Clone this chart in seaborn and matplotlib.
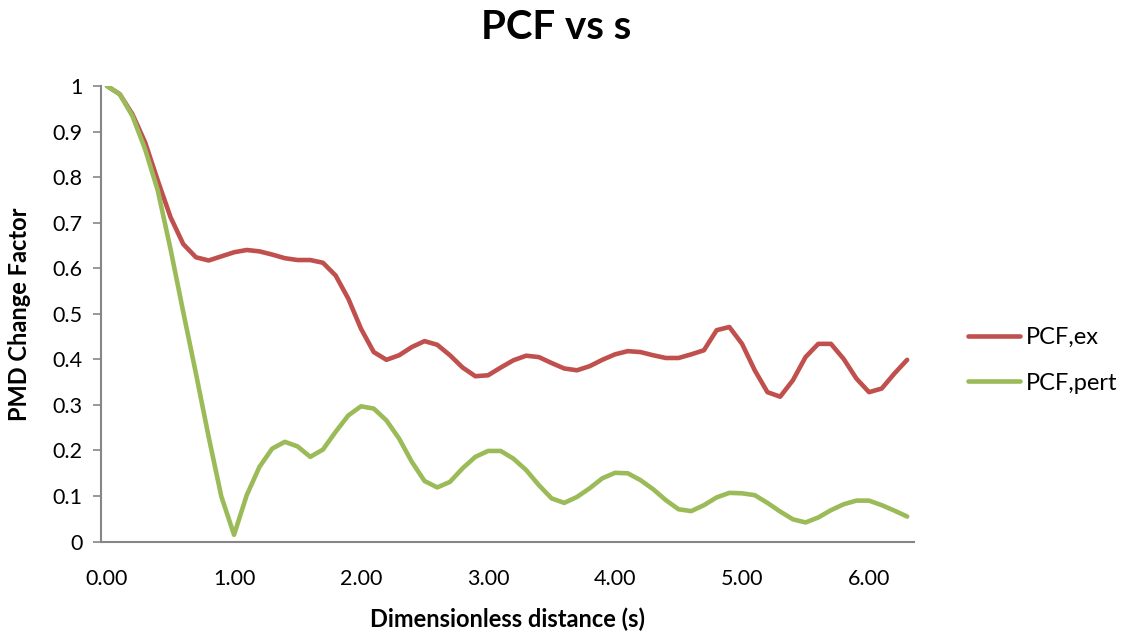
import numpy as np
import pandas as pd
import seaborn as sns
import matplotlib.pyplot as plt

# dimensionless distance s, 0.0 .. 6.3 in steps of 0.1
s_values = [round(0.1 * i, 1) for i in range(64)]

pcf_ex = [
    1.000, 0.982, 0.938, 0.876, 0.792, 0.712, 0.653, 0.624, 0.617, 0.626,
    0.635, 0.640, 0.637, 0.630, 0.622, 0.618, 0.618, 0.612, 0.584, 0.533,
    0.467, 0.416, 0.399, 0.409, 0.427, 0.440, 0.432, 0.409, 0.382, 0.363,
    0.365, 0.382, 0.398, 0.408, 0.405, 0.392, 0.380, 0.376, 0.385, 0.399,
    0.411, 0.418, 0.416, 0.409, 0.403, 0.403, 0.411, 0.420, 0.464, 0.471,
    0.434, 0.376, 0.328, 0.318, 0.354, 0.405, 0.434, 0.434, 0.401, 0.358,
    0.328, 0.336, 0.369, 0.399,
]

pcf_pert = [
    1.000, 0.982, 0.934, 0.861, 0.770, 0.642, 0.504, 0.369, 0.230, 0.099,
    0.015, 0.102, 0.164, 0.204, 0.219, 0.209, 0.186, 0.202, 0.241, 0.277,
    0.297, 0.292, 0.266, 0.226, 0.175, 0.133, 0.119, 0.131, 0.161, 0.186,
    0.199, 0.199, 0.182, 0.157, 0.124, 0.095, 0.085, 0.098, 0.117, 0.139,
    0.151, 0.150, 0.135, 0.115, 0.091, 0.071, 0.067, 0.080, 0.097, 0.107,
    0.106, 0.102, 0.085, 0.066, 0.049, 0.042, 0.053, 0.069, 0.082, 0.090,
    0.090, 0.080, 0.068, 0.055,
]

series_names = ["PCF,ex", "PCF,pert"]
series_colors = ["#C0504D", "#9BBB59"]

x_ticks = [0, 1, 2, 3, 4, 5, 6]
x_tick_labels = ["0.00", "1.00", "2.00", "3.00", "4.00", "5.00", "6.00"]
y_ticks = [0, 0.1, 0.2, 0.3, 0.4, 0.5, 0.6, 0.7, 0.8, 0.9, 1.0]
y_tick_labels = ["0", "0.1", "0.2", "0.3", "0.4", "0.5", "0.6", "0.7", "0.8", "0.9", "1"]

df = pd.DataFrame({
    "s": s_values * 2,
    "value": pcf_ex + pcf_pert,
    "series": [series_names[0]] * len(s_values) + [series_names[1]] * len(s_values),
})

sns.set_style("white")
plt.rcParams["font.family"] = ["Lato", "DejaVu Sans"]
plt.rcParams["text.color"] = "black"
plt.rcParams["axes.labelcolor"] = "black"
plt.rcParams["xtick.color"] = "black"
plt.rcParams["ytick.color"] = "black"

fig = plt.figure(figsize=(11.25, 6.32), dpi=100)
ax = fig.add_axes([0.0895, 0.143, 0.7225, 0.721])

sns.lineplot(
    data=df, x="s", y="value", hue="series",
    palette=dict(zip(series_names, series_colors)),
    linewidth=3.3, ax=ax, sort=False,
)

ax.set_xlim(-0.05, 6.35)
ax.set_ylim(0, 1)
ax.set_xticks(x_ticks)
ax.set_xticklabels(x_tick_labels)
ax.set_yticks(y_ticks)
ax.set_yticklabels(y_tick_labels)
ax.tick_params(axis="x", length=0, pad=20, labelsize=15.5)
ax.tick_params(axis="y", length=6, width=1.2, color="#868686", direction="out",
               pad=7, labelsize=15.5, left=True)

for side in ["top", "right"]:
    ax.spines[side].set_visible(False)
for side in ["left", "bottom"]:
    ax.spines[side].set_color("#868686")
    ax.spines[side].set_linewidth(1.5)

ax.set_xlabel("Dimensionless distance (s)", fontsize=17, fontweight="bold", labelpad=13)
ax.set_ylabel("PMD Change Factor", fontsize=17, fontweight="bold", va="center")
ax.yaxis.set_label_coords(-0.1, 0.5)

fig.suptitle("PCF vs s", x=0.494, y=0.957, va="center", fontsize=29, fontweight="bold")

leg = ax.legend(loc="center left", bbox_to_anchor=(1.067, 0.398), frameon=False,
                fontsize=17, handlelength=2.2, handletextpad=0.25, labelspacing=1.05,
                borderpad=0, borderaxespad=0)
for line in leg.get_lines():
    line.set_linewidth(3.3)

fig.savefig("out.png", dpi=100)
